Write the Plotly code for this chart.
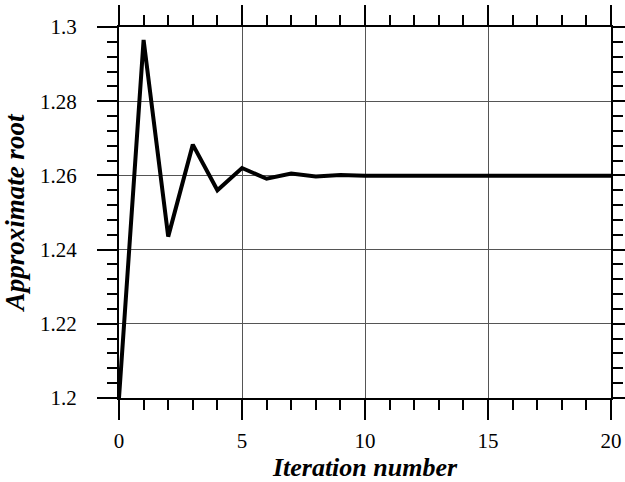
import plotly.graph_objects as go

iterations = list(range(21))
approx_root = [1.2, 1.2965, 1.2435, 1.2683, 1.2560, 1.2620, 1.2591, 1.2605, 1.2597, 1.2601,
               1.2599, 1.2600, 1.2599, 1.2599, 1.2599, 1.2599, 1.2599, 1.2599, 1.2599, 1.2599, 1.2599]

x_ticks = [0, 5, 10, 15, 20]
y_ticks = [1.2, 1.22, 1.24, 1.26, 1.28, 1.3]
y_labels = ["1.2", "1.22", "1.24", "1.26", "1.28", "1.3"]

fig = go.Figure()
fig.add_trace(go.Scatter(x=iterations, y=approx_root, mode="lines",
                         line=dict(color="black", width=4), showlegend=False))

font_family = "Liberation Serif"
axis_common = dict(
    showline=True, linecolor="black", linewidth=2, mirror="ticks",
    ticks="outside", ticklen=20, tickwidth=2, tickcolor="black",
    showgrid=True, gridcolor="#555555", gridwidth=1, zeroline=False,
    tickfont=dict(family=font_family, size=21, color="black"),
)

fig.update_xaxes(
    range=[0, 20], tickvals=x_ticks, ticktext=[str(v) for v in x_ticks],
    minor=dict(dtick=1, tick0=0, ticks="outside", ticklen=10, tickwidth=2, tickcolor="black", showgrid=False),
    ticklabelstandoff=3,
    title=dict(text="<b><i>Iteration number</i></b>", font=dict(family=font_family, size=26, color="black"), standoff=4),
    **axis_common,
)
fig.update_yaxes(
    range=[1.2, 1.3], tickvals=y_ticks, ticktext=y_labels,
    minor=dict(dtick=0.004, tick0=1.2, ticks="outside", ticklen=10, tickwidth=2, tickcolor="black", showgrid=False),
    ticklabelstandoff=16,
    title=dict(text="<b><i>Approximate root</i></b>", font=dict(family=font_family, size=27, color="black"), standoff=14),
    **axis_common,
)

fig.update_layout(
    width=625, height=482,
    margin=dict(l=119, r=14, t=27, b=84, autoexpand=False),
    plot_bgcolor="white", paper_bgcolor="white",
)

# force a full second layout pass (margin edit => complete replot) so mirrored ticks get drawn
post = (
    "var gd=document.getElementById('{plot_id}');"
    "Plotly.relayout(gd,{'margin.t':27,'margin.r':14,'margin.l':119,'margin.b':84});"
    "setTimeout(function(){Plotly.relayout(gd,{'margin.t':27,'margin.r':14});},50);"
)
fig.write_html("out.html", post_script=post)
